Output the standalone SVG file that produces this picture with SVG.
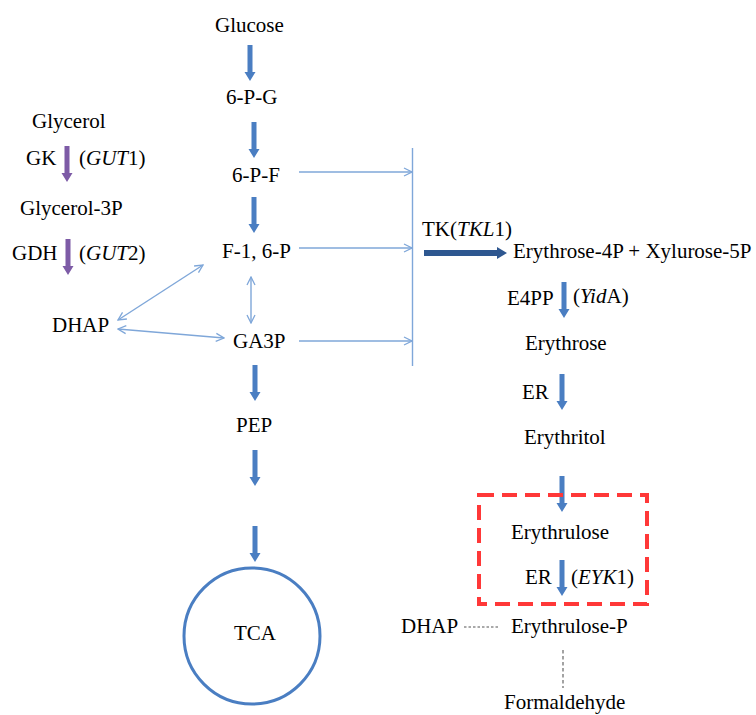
<svg xmlns="http://www.w3.org/2000/svg" width="756" height="715" viewBox="0 0 756 715">
<style>
  text { font-family: "Liberation Serif", "Times New Roman", serif; font-size: 21px; fill: #000; }
  .i { font-style: italic; }
  .thin { stroke: #7FA7D9; stroke-width: 1.4; fill: none; }
  .blue { fill: #4A7EC2; }
  .purple { fill: #7D5BA6; }
</style>
<defs>
  <path id="arr" d="M-2.5,0 H2.5 V27 H5.5 L0,36 L-5.5,27 H-2.5 Z"/>
  <marker id="chev" viewBox="0 0 10 10" refX="9" refY="5" markerWidth="10" markerHeight="10" markerUnits="userSpaceOnUse" orient="auto-start-reverse">
    <path d="M1,1 L9,5 L1,9" fill="none" stroke="#7FA7D9" stroke-width="1.3"/>
  </marker>
</defs>
<rect width="756" height="715" fill="#fff"/>

<g id="connectors">
  <use href="#arr" class="blue" x="250" y="45"/>
  <use href="#arr" class="blue" x="254" y="122"/>
  <use href="#arr" class="blue" x="254" y="197"/>
  <use href="#arr" class="blue" x="255" y="365"/>
  <use href="#arr" class="blue" x="255" y="450"/>
  <use href="#arr" class="blue" x="255" y="526"/>
  <use href="#arr" class="purple" x="67" y="146"/>
  <use href="#arr" class="purple" x="68" y="239"/>
  <use href="#arr" class="blue" x="564" y="282"/>
  <use href="#arr" class="blue" x="562" y="374"/>
  <use href="#arr" class="blue" x="562" y="476"/>
  <use href="#arr" class="blue" x="562" y="560"/>
  <line class="thin" x1="251" y1="277" x2="251" y2="323" marker-start="url(#chev)" marker-end="url(#chev)"/>
  <line class="thin" x1="118" y1="320" x2="203" y2="265" marker-start="url(#chev)" marker-end="url(#chev)"/>
  <line class="thin" x1="118" y1="329" x2="224" y2="338" marker-start="url(#chev)" marker-end="url(#chev)"/>
  <line class="thin" x1="299" y1="172" x2="412" y2="172" marker-end="url(#chev)"/>
  <line class="thin" x1="299" y1="248" x2="412" y2="248" marker-end="url(#chev)"/>
  <line class="thin" x1="299" y1="341" x2="412" y2="341" marker-end="url(#chev)"/>
  <line class="thin" x1="412.5" y1="148" x2="412.5" y2="366" stroke-width="1.6"/>
  <path d="M424,250 H497 V247 L507,253 L497,259 V256 H424 Z" fill="#2E5790"/>
  <line x1="464" y1="627" x2="498" y2="627" stroke="#555" stroke-width="1.2" stroke-dasharray="2.5 2"/>
  <line x1="563" y1="650" x2="563" y2="688" stroke="#666" stroke-width="1.2" stroke-dasharray="3.5 2.5"/>
</g>

<g id="box">
  <rect x="479" y="495" width="168" height="109" fill="none" stroke="#FF3838" stroke-width="4" stroke-dasharray="15 8"/>
</g>

<g id="glucose"><text x="215" y="32">Glucose</text></g>
<g id="p6g"><text x="226" y="104">6-P-G</text></g>
<g id="p6f"><text x="232" y="182">6-P-F</text></g>
<g id="f16p"><text x="222" y="258">F-1, 6-P</text></g>
<g id="ga3p"><text x="233" y="348">GA3P</text></g>
<g id="pep"><text x="236" y="432">PEP</text></g>
<g id="tca"><circle cx="252" cy="636" r="68" fill="none" stroke="#4A7EC2" stroke-width="3"/><text x="234" y="640">TCA</text></g>

<g id="glycerol"><text x="32" y="128">Glycerol</text></g>
<g id="gk"><text x="26" y="165">GK</text><text x="79" y="165">(<tspan class="i">GUT</tspan>1)</text></g>
<g id="glycerol3p"><text x="20" y="215">Glycerol-3P</text></g>
<g id="gdh"><text x="12" y="260">GDH</text><text x="79" y="260">(<tspan class="i">GUT</tspan>2)</text></g>
<g id="dhap"><text x="52" y="332">DHAP</text></g>

<g id="tk"><text x="422" y="236">TK(<tspan class="i">TKL</tspan>1)</text></g>
<g id="e4p"><text x="513" y="258">Erythrose-4P + Xylurose-5P</text></g>
<g id="e4pp"><text x="507" y="305">E4PP</text><text x="573" y="303">(<tspan class="i">Yid</tspan>A)</text></g>
<g id="erythrose"><text x="525" y="350">Erythrose</text></g>
<g id="er1"><text x="522" y="399">ER</text></g>
<g id="erythritol"><text x="524" y="444">Erythritol</text></g>
<g id="erythrulose"><text x="511" y="539">Erythrulose</text></g>
<g id="er2"><text x="525" y="584">ER</text><text x="571" y="584">(<tspan class="i">EYK</tspan>1)</text></g>
<g id="dhap2"><text x="401" y="633">DHAP</text></g>
<g id="erythrulosep"><text x="511" y="633">Erythrulose-P</text></g>
<g id="formaldehyde"><text x="504" y="709">Formaldehyde</text></g>
</svg>
